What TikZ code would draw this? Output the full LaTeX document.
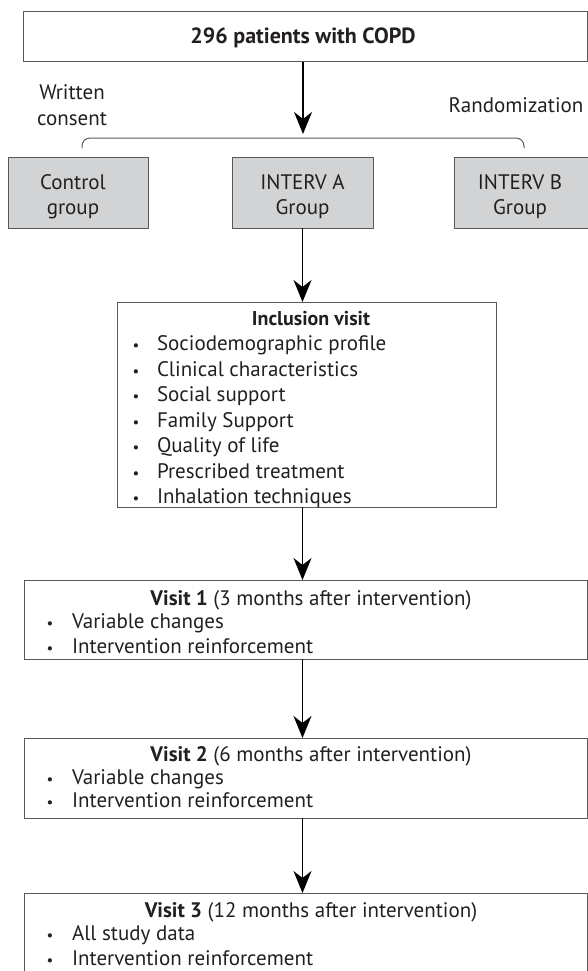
\documentclass[tikz,border=0pt]{standalone}
\usepackage{fontspec}
\setmainfont{PT Sans}
\usetikzlibrary{arrows.meta}
\definecolor{txt}{HTML}{231F20}
\definecolor{edge}{HTML}{58595B}
\definecolor{grp}{HTML}{D1D3D4}
\tikzset{
  box/.style={draw=edge, line width=1pt, inner sep=0pt, outer sep=0pt, rectangle},
  graybox/.style={box, fill=grp},
  lbl/.style={inner sep=0pt, outer sep=0pt, text=txt, font=\fontsize{21}{25}\selectfont, anchor=base},
  itm/.style={lbl, anchor=base west},
  bul/.style={lbl, anchor=base, font=\fontsize{15}{25}\selectfont},
  flow/.style={-{Stealth[length=22pt,width=18pt,inset=7pt]}, line width=1.8pt, black},
}
\begin{document}
\begin{tikzpicture}[x=1pt,y=-1pt]
\useasboundingbox (0,0) rectangle (588,971);
% boxes
\node[box, minimum width=564pt, minimum height=50pt] (top) at (305,37) {};
\node[graybox, minimum width=140pt, minimum height=71pt] (ctrl) at (78,192.5) {};
\node[graybox, minimum width=141pt, minimum height=71pt] (ia) at (302.5,192.5) {};
\node[graybox, minimum width=140pt, minimum height=71pt] (ib) at (524,192.5) {};
\node[box, minimum width=379pt, minimum height=205pt] (inc) at (306.5,404.5) {};
\node[box, minimum width=563pt, minimum height=79pt] (v1) at (305.5,619.5) {};
\node[box, minimum width=563pt, minimum height=80pt] (v2) at (305.5,778) {};
\node[box, minimum width=563pt, minimum height=100pt] (v3) at (305.5,943) {};
% brace
\coordinate (bl) at (82,148);
\coordinate (br) at (524,148);
\draw[edge, line width=1pt, rounded corners=8pt] (bl) -- (82,138) -- (524,138) -- (br);
% arrows
\coordinate (a1) at (303,62);
\coordinate (t1) at (303,134);
\draw[flow] (a1) -- (t1);
\draw[flow] (ia.south) -- (ia.south |- inc.north);
\draw[flow] (inc.south -| ia.south) -- (ia.south |- v1.north);
\draw[flow] (v1.south -| ia.south) -- (ia.south |- v2.north);
\draw[flow] (v2.south -| ia.south) -- (ia.south |- v3.north);
% texts
\node[lbl, font=\fontsize{22}{25}\selectfont\bfseries] (ttop) at (303,44) {296 patients with COPD};
\node[lbl] (wc1) at (72,100) {Written};
\node[lbl] (wc2) at (72,125) {consent};
\node[lbl] (rnd) at (516,113) {Randomization};
\node[lbl] (ct1) at (73,189) {Control};
\node[lbl] (ct2) at (73,214) {group};
\node[lbl] (ia1) at (302.5,189) {INTERV A};
\node[lbl] (ia2) at (302.5,214) {Group};
\node[lbl] (ib1) at (520,189) {INTERV B};
\node[lbl] (ib2) at (520,214) {Group};
% inclusion
\node[lbl, font=\fontsize{20}{25}\selectfont\bfseries] (inct) at (311,325) {Inclusion visit};
\foreach \t [count=\i] in {Sociodemographic profile,Clinical characteristics,Social support,Family Support,Quality of life,Prescribed treatment,Inhalation techniques}{
  \node[bul] (incb\i) at (136,{325+25.5*\i}) {•};
  \node[itm] (inci\i) at (157,{325+25.5*\i}) {\t};
}
% visit 1
\node[lbl] (v1t) at (311,605) {\textbf{Visit 1} (3 months after intervention)};
\node[bul] (v1b1) at (50,628) {•};
\node[itm] (v1i1) at (72,628) {Variable changes};
\node[bul] (v1b2) at (50,653) {•};
\node[itm] (v1i2) at (72,653) {Intervention reinforcement};
% visit 2
\node[lbl] (v2t) at (311,761) {\textbf{Visit 2} (6 months after intervention)};
\node[bul] (v2b1) at (50,784) {•};
\node[itm] (v2i1) at (72,784) {Variable changes};
\node[bul] (v2b2) at (50,807) {•};
\node[itm] (v2i2) at (72,807) {Intervention reinforcement};
% visit 3
\node[lbl] (v3t) at (311,917) {\textbf{Visit 3} (12 months after intervention)};
\node[bul] (v3b1) at (50,940) {•};
\node[itm] (v3i1) at (72,940) {All study data};
\node[bul] (v3b2) at (50,965) {•};
\node[itm] (v3i2) at (72,965) {Intervention reinforcement};
\end{tikzpicture}
\end{document}
